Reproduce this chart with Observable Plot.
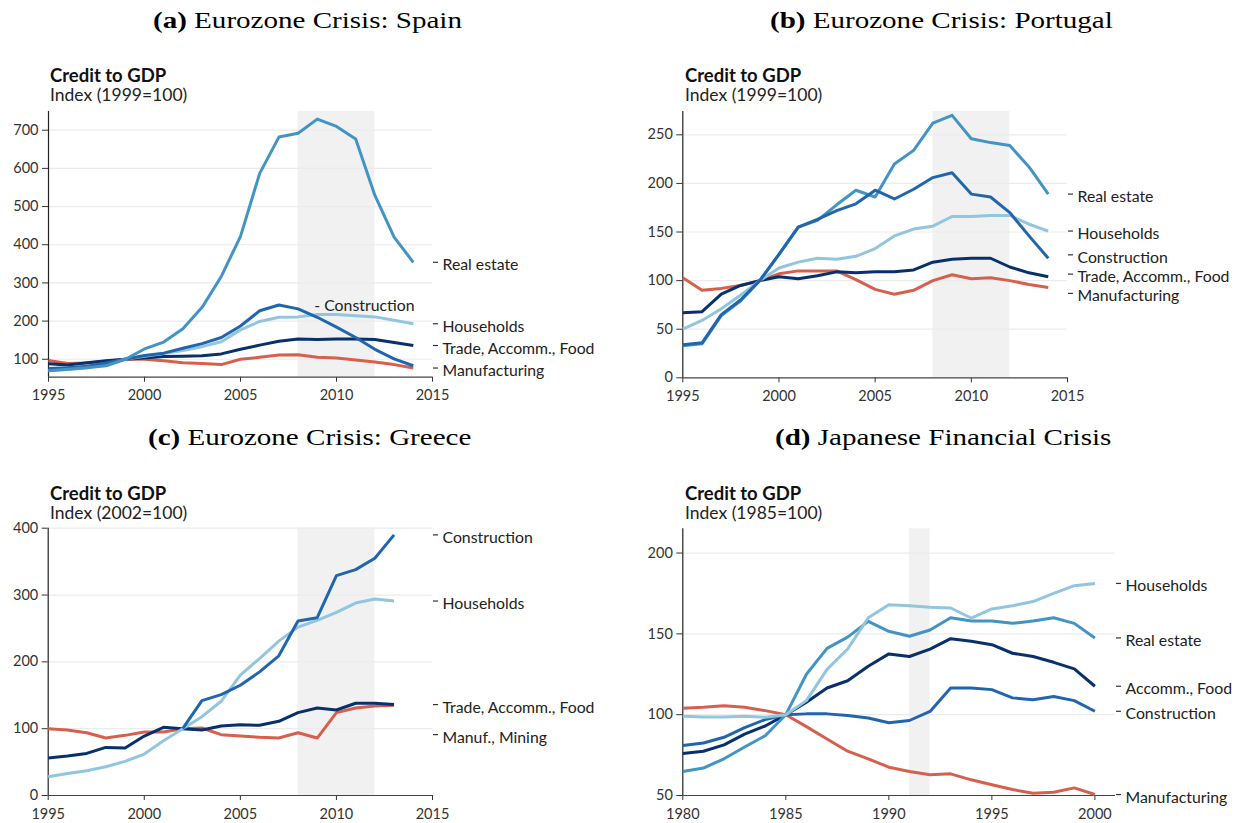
<!DOCTYPE html>
<html>
<head>
<meta charset="utf-8">
<script src="https://cdn.jsdelivr.net/npm/d3@7"></script>
<script src="https://cdn.jsdelivr.net/npm/@observablehq/plot@0.6"></script>
<style>
  body { margin: 0; background: #fff; }
  #page { position: relative; width: 1239px; height: 823px; overflow: hidden; font-family: Lato, "Noto Sans", sans-serif; background:#fff; }
  .ptitle { position: absolute; font-family: "Liberation Serif", "Times New Roman", serif; font-size: 24px; line-height: 24px; color: #000; white-space: nowrap; transform-origin: 0 0; }
  .ctitle { position: absolute; font-family: Lato, sans-serif; font-weight: 700; font-size: 18.5px; line-height: 18.5px; color: #111; white-space: nowrap; }
  .csub { position: absolute; font-family: Lato, sans-serif; font-size: 17.5px; line-height: 17.5px; color: #222; white-space: nowrap; }
  .chart { position: absolute; }
</style>
</head>
<body>
<div id="page"></div>
<script>
// ---------------- DATA ----------------
// (a) Spain, Index 1999 = 100
const spainYears = [1995,1996,1997,1998,1999,2000,2001,2002,2003,2004,2005,2006,2007,2008,2009,2010,2011,2012,2013,2014];
const spainRealEstate   = [70,74,78,83,100,127,145,180,236,317,422,587,682,692,729,710,677,529,420,354];
const spainConstruction = [76,78,82,90,100,110,116,129,141,157,187,227,242,232,210,184,157,126,101,83];
const spainHouseholds   = [70,73,78,88,100,108,115,123,133,146,177,199,210,211,217,217,214,211,202,193];
const spainTrade        = [88,85,91,96,100,103,107,108,109,114,126,137,147,153,152,153,153,152,144,136];
const spainManufacturing= [97,89,90,95,100,100,96,91,89,86,100,105,111,112,105,103,98,93,86,77];

// (b) Portugal, Index 1999 = 100
const portugalYears = [1995,1996,1997,1998,1999,2000,2001,2002,2003,2004,2005,2006,2007,2008,2009,2010,2011,2012,2013,2014];
const portugalRealEstate   = [33,35,64,79,100,127,155,162,178,193,186,220,234,262,270,246,242,239,217,189];
const portugalConstruction = [34,36,65,80,100,127,155,163,172,179,193,184,194,206,211,189,186,170,146,123];
const portugalHouseholds   = [50,59,71,85,100,113,119,123,122,125,133,146,153,156,166,166,167,167,158,151];
const portugalTrade        = [67,68,86,95,100,104,102,105,109,108,109,109,111,119,122,123,123,114,108,104];
const portugalManufacturing= [103,90,92,95,100,107,110,110,110,101,91,86,90,100,106,102,103,100,96,93];

// (c) Greece, Index 2002 = 100
const greeceYears = [1995,1996,1997,1998,1999,2000,2001,2002,2003,2004,2005,2006,2007,2008,2009,2010,2011,2012,2013];
const greeceConstruction = [null,null,null,null,null,null,null,100,142,151,165,185,209,261,266,329,338,355,390];
const greeceHouseholds   = [28,33,37,43,51,62,82,100,118,141,180,205,231,252,262,274,288,294,291];
const greeceTrade        = [56,59,63,72,71,89,102,100,98,104,106,105,111,124,131,128,138,138,136];
const greeceManufMining  = [100,98,94,86,90,95,95,100,101,91,89,87,86,94,86,124,131,134,135];

// (d) Japan, Index 1985 = 100
const japanYears = [1980,1981,1982,1983,1984,1985,1986,1987,1988,1989,1990,1991,1992,1993,1994,1995,1996,1997,1998,1999,2000];
const japanHouseholds   = [99,98.6,98.6,99,98.4,100,108.7,128,140.6,160,168,167.4,166.4,166,159.8,165.4,167.4,170,175,179.8,181.2];
const japanRealEstate   = [64.8,67,72.7,80,87,100,125,141,148,157.7,151.6,148.5,152.4,160,158,158,156.5,158,160,156.5,147.5];
const japanAccommFood   = [76,77.4,81.3,88,93,100,107.7,116.5,121,130,137.6,136,140.6,147,145.4,143.3,138,136,132.4,128.3,117.6];
const japanConstruction = [81,82.5,86,92,97,100,100.5,100.5,99.5,98,95,96.4,102,116.5,116.5,115.5,110.4,109.3,111.2,108.7,102.1];
const japanManufacturing= [104,104.6,105.6,104.6,102.5,100,92.6,85,77.4,72.7,67.5,64.8,62.8,63.4,59.7,56.6,53.7,51.4,52,54.7,50.6];

// Tick values
const ticksYears9515 = [1995,2000,2005,2010,2015];
const ticksYears8000 = [1980,1985,1990,1995,2000];
const spainYTicks    = [100,200,300,400,500,600,700];
const portugalYTicks = [0,50,100,150,200,250];
const greeceYTicks   = [0,100,200,300,400];
const japanYTicks    = [50,100,150,200];

// Sector colours
const sectorColor = {
  "Real estate": "#4393c3",
  "Construction": "#2166ac",
  "Households": "#92c5de",
  "Trade": "#08306b",
  "Manufacturing": "#d6604d"
};

// ---------------- LAYOUT ----------------
const page = document.getElementById("page");
function addDiv(cls, text, left, top, html) {
  const d = document.createElement("div");
  d.className = cls;
  if (html) d.innerHTML = text; else d.textContent = text;
  d.style.left = left + "px";
  d.style.top = top + "px";
  page.appendChild(d);
  return d;
}
function addTitle(html, center, top) {
  const d = addDiv("ptitle", html, 0, top, true);
  const w = d.getBoundingClientRect().width * 1.21;
  d.style.transform = "scaleX(1.21)";
  d.style.left = (center - w / 2) + "px";
}
addTitle("<b>(a)</b> Eurozone Crisis: Spain", 307.5, 8.2);
addTitle("<b>(b)</b> Eurozone Crisis: Portugal", 941.5, 8.2);
addTitle("<b>(c)</b> Eurozone Crisis: Greece", 310, 425.4);
addTitle("<b>(d)</b> Japanese Financial Crisis", 943, 425.4);

addDiv("ctitle", "Credit to GDP", 50, 66.2);
addDiv("csub", "Index (1999=100)", 50, 86.4);
addDiv("ctitle", "Credit to GDP", 685, 66.2);
addDiv("csub", "Index (1999=100)", 685, 86.4);
addDiv("ctitle", "Credit to GDP", 50, 483.9);
addDiv("csub", "Index (2002=100)", 50, 504.1);
addDiv("ctitle", "Credit to GDP", 685, 483.9);
addDiv("csub", "Index (1985=100)", 685, 504.1);

// label dodging: "down" pushes lower labels down, "center" spreads clusters symmetrically
function dodge(labels, gapU, mode) {
  labels.sort((a, b) => b.ly - a.ly);
  if (mode === "down") {
    for (let i = 1; i < labels.length; i++) labels[i].ly = Math.min(labels[i].ly, labels[i - 1].ly - gapU);
    return labels;
  }
  let clusters = labels.map(l => ({items: [l], top: l.ly}));
  let merged = true;
  while (merged) {
    merged = false;
    for (let i = 0; i < clusters.length - 1; i++) {
      const a = clusters[i], b = clusters[i + 1];
      const aBottom = a.top - (a.items.length - 1) * gapU;
      if (aBottom - b.top < gapU) {
        const items = a.items.concat(b.items);
        const top = d3.mean(items, (l, k) => l.ly + k * gapU);
        clusters.splice(i, 2, {items, top});
        merged = true;
        break;
      }
    }
  }
  clusters.forEach(c => c.items.forEach((l, k) => { l.pos = c.top - k * gapU; }));
  labels.forEach(l => { l.ly = l.pos; });
  return labels;
}

function makePanel(cfg) {
  const {series, years, xDomain, yDomain, xTicks, yTicks, band, left, top, width, height, m, gap, mode, inline} = cfg;
  const rows = [];
  series.forEach(s => s.values.forEach((v, i) => {
    if (v != null) rows.push({year: years[i], value: v, sector: s.sector});
  }));
  const plotH = height - m.top - m.bottom;
  const plotW = width - m.left - m.right;
  const pxY = plotH / (yDomain[1] - yDomain[0]);
  const pxX = plotW / (xDomain[1] - xDomain[0]);
  const last = s => { const v = s.values.filter(d => d != null); return v[v.length - 1]; };
  const labels = dodge(series
    .filter(s => !inline || s.label !== inline.label)
    .map(s => ({name: s.label, ly: last(s)})), gap / pxY, mode);
  const xmax = xDomain[1];
  const marks = [
    Plot.rect([band], {x1: d => d[0], x2: d => d[1], fill: "#f1f1f1"}),
    Plot.gridY(yTicks.filter(t => t > yDomain[0]), {stroke: "#ebebeb", strokeOpacity: 1, strokeWidth: 1.2}),
    Plot.ruleY([yDomain[0]], {stroke: "#444", strokeWidth: 1.2}),
    Plot.ruleX([xDomain[0]], {stroke: "#222", strokeWidth: 1.2}),
    Plot.line(rows, {x: "year", y: "value", z: "sector", stroke: d => sectorColor[d.sector], strokeWidth: 3, strokeLinejoin: "round", strokeLinecap: "butt"}),
    Plot.ruleY(labels, {y: "ly", x1: xmax + 1 / pxX, x2: xmax + 6 / pxX, stroke: "#333", strokeWidth: 1.2}),
    Plot.text(labels, {x: xmax, y: "ly", text: "name", dx: 10, dy: 3, textAnchor: "start", fontSize: 15.8, fill: "#222", fontFamily: "Lato"})
  ];
  if (inline) {
    const s = series.find(d => d.label === inline.label);
    const idx = years.indexOf(inline.year);
    marks.push(Plot.text([{x: inline.year, y: s.values[idx]}], {x: "x", y: "y", text: () => "- " + inline.label, dx: -3, dy: -11, textAnchor: "start", fontSize: 15.8, fill: "#222", fontFamily: "Lato"}));
  }
  const svg = Plot.plot({
    width, height,
    marginLeft: m.left, marginRight: m.right, marginTop: m.top, marginBottom: m.bottom,
    x: {domain: xDomain, ticks: xTicks, tickFormat: "d", tickSize: 5, tickPadding: 8, label: null},
    y: {domain: yDomain, ticks: yTicks, tickSize: 6, tickPadding: 4, label: null},
    style: {fontFamily: "Lato, sans-serif", fontSize: "14.5px", color: "#333", background: "transparent", overflow: "visible"},
    marks
  });
  const wrap = document.createElement("div");
  wrap.className = "chart";
  wrap.style.left = left + "px";
  wrap.style.top = top + "px";
  wrap.appendChild(svg);
  page.appendChild(wrap);
}

// (a) Spain
makePanel({
  years: spainYears,
  series: [
    {sector: "Manufacturing", label: "Manufacturing", values: spainManufacturing},
    {sector: "Trade", label: "Trade, Accomm., Food", values: spainTrade},
    {sector: "Households", label: "Households", values: spainHouseholds},
    {sector: "Construction", label: "Construction", values: spainConstruction},
    {sector: "Real estate", label: "Real estate", values: spainRealEstate}
  ],
  xDomain: [1995, 2015], yDomain: [53, 749], xTicks: ticksYears9515, yTicks: spainYTicks,
  band: [2008, 2012],
  left: 0, top: 100, width: 620, height: 310,
  m: {left: 48, right: 188, top: 11, bottom: 33.3},
  gap: 21, mode: "center",
  inline: {label: "Construction", year: 2009}
});

// (b) Portugal
makePanel({
  years: portugalYears,
  series: [
    {sector: "Manufacturing", label: "Manufacturing", values: portugalManufacturing},
    {sector: "Trade", label: "Trade, Accomm., Food", values: portugalTrade},
    {sector: "Households", label: "Households", values: portugalHouseholds},
    {sector: "Real estate", label: "Real estate", values: portugalRealEstate},
    {sector: "Construction", label: "Construction", values: portugalConstruction}
  ],
  xDomain: [1995, 2015], yDomain: [0, 274], xTicks: ticksYears9515, yTicks: portugalYTicks,
  band: [2008, 2012],
  left: 620, top: 100, width: 619, height: 310,
  m: {left: 62.3, right: 172, top: 11, bottom: 32.7},
  gap: 19.3, mode: "center"
});

// (c) Greece
makePanel({
  years: greeceYears,
  series: [
    {sector: "Manufacturing", label: "Manuf., Mining", values: greeceManufMining},
    {sector: "Trade", label: "Trade, Accomm., Food", values: greeceTrade},
    {sector: "Households", label: "Households", values: greeceHouseholds},
    {sector: "Construction", label: "Construction", values: greeceConstruction}
  ],
  xDomain: [1995, 2015], yDomain: [0, 400], xTicks: ticksYears9515, yTicks: greeceYTicks,
  band: [2008, 2012],
  left: 0, top: 517, width: 620, height: 306,
  m: {left: 47.7, right: 188, top: 10.7, bottom: 28},
  gap: 30, mode: "down"
});

// (d) Japan
makePanel({
  years: japanYears,
  series: [
    {sector: "Manufacturing", label: "Manufacturing", values: japanManufacturing},
    {sector: "Trade", label: "Accomm., Food", values: japanAccommFood},
    {sector: "Construction", label: "Construction", values: japanConstruction},
    {sector: "Real estate", label: "Real estate", values: japanRealEstate},
    {sector: "Households", label: "Households", values: japanHouseholds}
  ],
  xDomain: [1980, 2001], yDomain: [50, 215], xTicks: ticksYears8000, yTicks: japanYTicks,
  band: [1991, 1992],
  left: 620, top: 517, width: 619, height: 306,
  m: {left: 62.3, right: 124, top: 11.3, bottom: 28},
  gap: 19, mode: "down"
});
</script>
</body>
</html>
